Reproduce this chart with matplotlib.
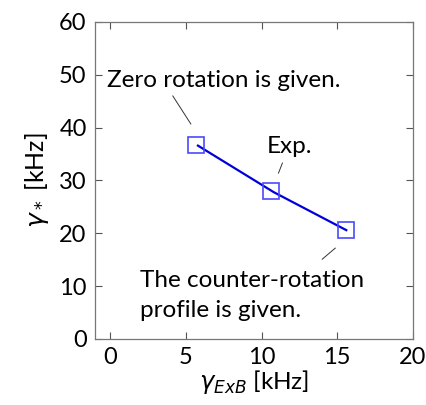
import matplotlib.pyplot as plt

# measured points
g_exb = [5.7, 10.6, 15.6]
g_star = [36.8, 28.0, 20.6]
# connecting curve
line_x = [5.8, 10.8, 15.6]
line_y = [36.6, 27.8, 20.6]

xticks = [0, 5, 10, 15, 20]
yticks = [0, 10, 20, 30, 40, 50, 60]

plt.rcParams['font.family'] = ['Lato', 'DejaVu Sans']
plt.rcParams['mathtext.fontset'] = 'dejavusans'

fig = plt.figure(figsize=(4.27, 4.05), dpi=100)
ax = fig.add_axes([0.2225, 0.163, 0.7445, 0.7827])

ax.plot(line_x, line_y, color='#0000d8', lw=1.6, zorder=2)
ax.plot(g_exb, g_star, ls='none', marker='s', ms=12, mfc='none',
        mec='#4a4aff', mew=1.2, zorder=3)

ax.set_xlim(-1, 20)
ax.set_ylim(0, 60)
ax.set_xticks(xticks)
ax.set_yticks(yticks)
ax.tick_params(direction='in', top=True, right=True, labelsize=17,
               length=5, width=0.8, color='#555555', pad=6)
for s in ax.spines.values():
    s.set_color('#777777')
    s.set_linewidth(0.9)

ax.set_xlabel(r'$\gamma_{\mathit{ExB}}$ [kHz]', fontsize=17.5, labelpad=0)
ax.set_ylabel(r'$\gamma_*$ [kHz]', fontsize=18, labelpad=6)

# annotations
ax.text(7.5, 49.0, 'Zero rotation is given.', fontsize=17.5, ha='center', va='center')
ax.plot([4.14, 5.33], [46.0, 40.7], color='#333333', lw=0.7)
ax.text(10.35, 36.5, 'Exp.', fontsize=17.5, ha='left', va='center')
ax.plot([11.38, 11.12], [33.3, 31.4], color='#333333', lw=0.7)
ax.text(1.95, 11.0, 'The counter-rotation', fontsize=17.5, ha='left', va='center')
ax.text(1.95, 5.3, 'profile is given.', fontsize=17.5, ha='left', va='center')
ax.plot([14.87, 14.01], [17.2, 15.1], color='#333333', lw=0.7)

fig.savefig('out.png', dpi=100)
